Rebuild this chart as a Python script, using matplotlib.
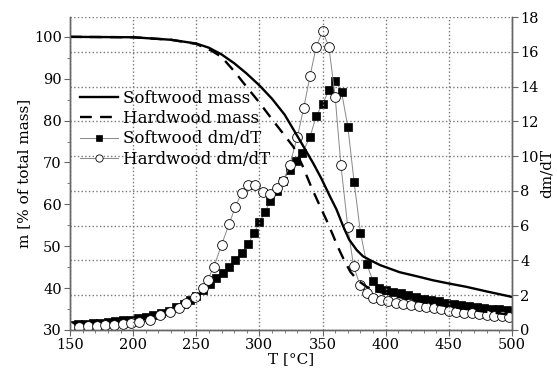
import numpy as np
import matplotlib
matplotlib.use('Agg')
import matplotlib.pyplot as plt
from matplotlib.ticker import MultipleLocator

plt.rcParams['font.family'] = 'DejaVu Serif'

# mass curves (left axis, % of total mass)
T_soft_mass = [150, 200, 230, 250, 260, 270, 280, 290, 300, 310, 320, 332, 342.6, 349, 356, 361,
               366.4, 371, 377, 382, 387.5, 395.5, 411, 425, 437, 450, 464, 480, 500]
soft_mass = [100, 99.9, 99.3, 98.4, 97.4, 95.8, 93.7, 91.2, 88.4, 85.2, 81.4, 75.3, 69.8, 66.2, 61.8, 58.8,
             54.7, 51.6, 49.1, 47.6, 46.7, 45.5, 43.8, 42.8, 41.9, 41.1, 40.3, 39.2, 37.9]

T_hard_mass = [150, 200, 230, 250, 262, 270, 280, 290, 300, 310, 318, 327, 334, 341, 347, 353, 358,
               362, 367, 372, 378, 385, 395, 410, 430, 450, 475, 500]
hard_mass = [100, 99.9, 99.3, 98.3, 96.7, 95.2, 91.8, 88, 84.3, 80.3, 77.2, 73.7, 69.3, 64.2, 60.2, 56.3, 52.8,
             49.9, 46.7, 43.9, 41.8, 40.3, 39.1, 37.9, 36.6, 35.6, 34.5, 33.6]

# dm/dT (right axis)
T_soft_rate = [150, 156, 162, 168, 174, 180, 186, 192, 198, 204, 210, 216, 222, 228, 234, 240, 245, 250,
               255, 261, 266, 271, 276, 281, 286, 291, 296, 300, 304.5, 308.5, 314, 319, 324, 329, 334,
               340, 345, 350, 355, 360, 365, 370, 375, 380, 385, 390, 395, 400, 406, 412, 418, 424, 430,
               436, 442, 448, 454, 460, 466, 472, 478, 484, 490, 496, 500]
soft_rate = [0.3, 0.32, 0.35, 0.38, 0.41, 0.45, 0.5, 0.55, 0.6, 0.67, 0.75, 0.85, 0.98, 1.12, 1.3, 1.5, 1.72,
             1.98, 2.3, 2.65, 3.0, 3.3, 3.62, 4.0, 4.45, 4.95, 5.6, 6.2, 6.8, 7.4, 8.0, 8.6, 9.2, 9.7, 10.2,
             11.1, 12.3, 13.0, 13.8, 14.35, 13.7, 11.7, 8.5, 5.6, 3.8, 2.8, 2.4, 2.3, 2.2, 2.1, 2.0, 1.9, 1.8,
             1.72, 1.64, 1.56, 1.5, 1.43, 1.37, 1.32, 1.27, 1.22, 1.18, 1.14, 1.1]

T_hard_rate = [150, 157, 164, 171, 178, 185, 192, 198, 205, 213, 221, 229, 236, 242, 249, 255, 259, 264,
               270, 276, 281, 286, 291, 296.5, 303, 308, 313.6, 319, 324, 330, 335, 340, 345, 350, 355,
               360, 364.5, 370, 374.5, 379.5, 385, 390, 396, 402, 408, 414, 420, 426, 432, 438, 444, 450,
               456, 462, 468, 474, 480, 486, 492, 498]
hard_rate = [0.2, 0.2, 0.22, 0.24, 0.26, 0.3, 0.34, 0.4, 0.45, 0.6, 0.85, 1.05, 1.25, 1.55, 1.9, 2.4, 2.9,
             3.65, 4.9, 6.1, 7.1, 7.9, 8.35, 8.35, 7.95, 7.85, 8.15, 8.6, 9.5, 11.1, 12.75, 14.6, 16.3, 17.2,
             16.3, 13.4, 9.5, 5.9, 3.7, 2.6, 2.1, 1.85, 1.72, 1.65, 1.58, 1.52, 1.46, 1.4, 1.32, 1.25, 1.18,
             1.12, 1.06, 1.0, 0.95, 0.91, 0.87, 0.83, 0.8, 0.77]

fig = plt.figure(figsize=(5.57, 3.73), dpi=100)
ax = fig.add_axes([0.1257, 0.1153, 0.7935, 0.8387])
ax2 = ax.twinx()

ax.set_zorder(ax2.get_zorder() + 1)
ax.patch.set_visible(False)

spine_c = '#666666'
l1, = ax.plot(T_soft_mass, soft_mass, color='black', lw=1.7, label='Softwood mass')
l2, = ax.plot(T_hard_mass, hard_mass, color='black', lw=1.7, ls=(0, (5, 3.5)), label='Hardwood mass')

l3, = ax2.plot(T_soft_rate, soft_rate, color='#888888', lw=0.7, marker='s', ms=5.5,
               mfc='black', mec='black', mew=0.5, label='Softwood dm/dT')
l4, = ax2.plot(T_hard_rate, hard_rate, color='#888888', lw=0.7, marker='o', ms=7,
               mfc='white', mec='black', mew=0.6, label='Hardwood dm/dT')

ax.set_xlim(150, 500)
ax.set_ylim(30, 104.7)
ax2.set_ylim(0, 18)

ax.xaxis.set_major_locator(MultipleLocator(50))
ax.xaxis.set_minor_locator(MultipleLocator(10))
ax.yaxis.set_minor_locator(MultipleLocator(5))
ax.set_yticks(np.arange(30, 101, 10))
ax2.yaxis.set_major_locator(MultipleLocator(2))

ax2.grid(True, axis='y', linestyle=':', color='#777777', lw=1.0)
ax.grid(True, axis='x', linestyle=':', color='#777777', lw=1.0)

for a in (ax, ax2):
    a.spines['top'].set_visible(False)
    for s in ('left', 'right', 'bottom'):
        a.spines[s].set_color(spine_c)
        a.spines[s].set_linewidth(1.0)
    a.tick_params(which='both', direction='out', color=spine_c, labelsize=10.5, length=4, pad=2)
    a.tick_params(which='minor', length=2.5)

ax.set_xlabel('T [°C]', fontsize=11, labelpad=0)
ax.set_ylabel('m [% of total mass]', fontsize=11, labelpad=2)
ax2.set_ylabel('dm/dT', fontsize=11, labelpad=1)

ax.legend(handles=[l1, l2, l3, l4], loc='upper left', bbox_to_anchor=(0.0, 0.8),
          frameon=False, fontsize=12, handlelength=2.3, handletextpad=0.3,
          borderaxespad=0.2, labelspacing=0.2, markerscale=0.75)

fig.savefig('out.png', dpi=100)
